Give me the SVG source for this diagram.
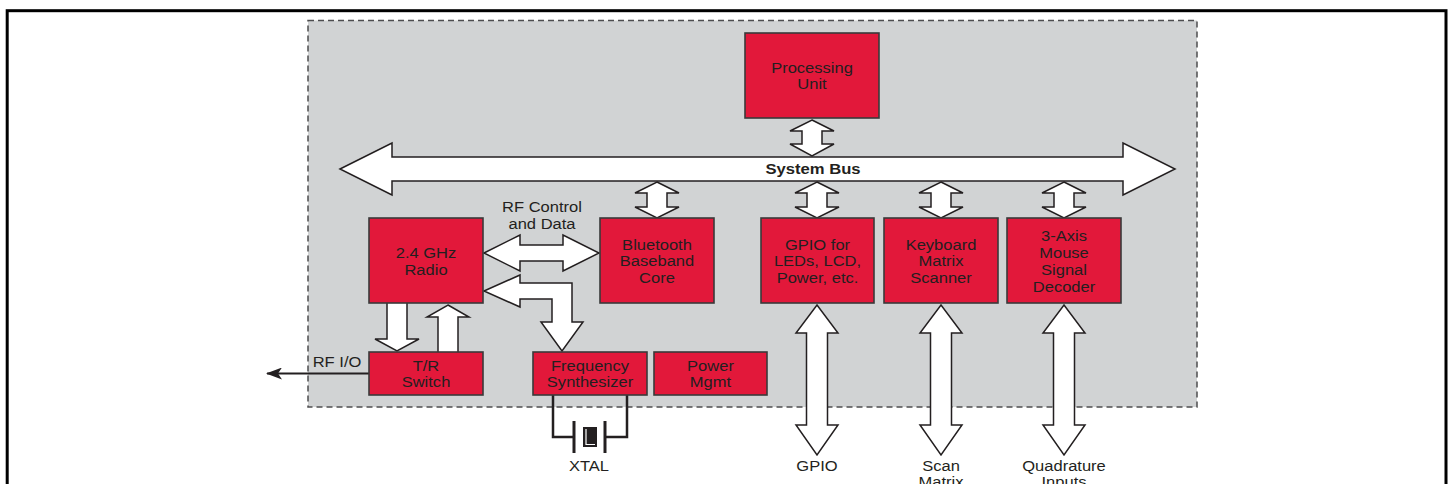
<svg xmlns="http://www.w3.org/2000/svg" width="1449" height="484" viewBox="0 0 1449 484">
<defs>
<style>
.frame{fill:none;stroke:#000;stroke-width:3}
.panel{fill:#d1d3d4;stroke:#4d4d4f;stroke-width:1.5;stroke-dasharray:6 4}
.blk{fill:#e2183a;stroke:#3a3a3a;stroke-width:1.6}
.arr{fill:#fff;stroke:#231f20;stroke-width:1.5;stroke-linejoin:miter}
.wire{fill:none;stroke:#231f20;stroke-width:2.5}
.plate{fill:none;stroke:#231f20;stroke-width:3}
.t{font-family:"Liberation Sans",Arial,sans-serif;font-size:14.5px;fill:#231f20;text-anchor:middle}
.tb{font-family:"Liberation Sans",Arial,sans-serif;font-size:15px;font-weight:bold;fill:#231f20;text-anchor:middle}
</style>
<marker id="ah" viewBox="0 0 16 12" refX="15" refY="6" markerWidth="16" markerHeight="12" markerUnits="userSpaceOnUse" orient="auto">
<path d="M16,6 L0,0 L4,6 L0,12 Z" fill="#231f20"/>
</marker>
</defs>
<rect class="frame" x="7.2" y="10.7" width="1438.8" height="500"/>
<rect class="panel" x="308" y="20.5" width="889" height="386.5"/>

<g id="connectors">
<polygon class="arr" points="340,169 392,143 392,157 1123,157 1123,143 1175,169 1123,195 1123,181 392,181 392,195"/>
<polygon class="arr" points="812,120 834,131 822,131 822,144 834,144 812,156 790,144 802,144 802,131 790,131"/>
<polygon class="arr" points="657,182 679,193 667,193 667,207 679,207 657,218 635,207 647,207 647,193 635,193"/>
<polygon class="arr" points="817,182 839,193 827,193 827,207 839,207 817,218 795,207 807,207 807,193 795,193"/>
<polygon class="arr" points="941,182 963,193 951,193 951,207 963,207 941,218 919,207 931,207 931,193 919,193"/>
<polygon class="arr" points="1064,182 1086,193 1074,193 1074,207 1086,207 1064,218 1042,207 1054,207 1054,193 1042,193"/>
<polygon class="arr" points="484,253 520,235 520,245 563,245 563,235 599,253 563,271 563,261 520,261 520,271"/>
<polygon class="arr" points="484,291 520,275 520,283 572,283 572,322 583,322 562,351 541,322 552,322 552,299 520,299 520,307"/>
<polygon class="arr" points="387,300 407,300 407,339 419,339 397,351 375,339 387,339"/>
<polygon class="arr" points="448,305 469,317 458,317 458,355 438,355 438,317 427,317"/>
<polygon class="arr" points="817,305 838,333 827.5,333 827.5,425 838,425 817,455 796,425 806.5,425 806.5,333 796,333"/>
<polygon class="arr" points="941,305 962,333 951.5,333 951.5,425 962,425 941,455 920,425 930.5,425 930.5,333 920,333"/>
<polygon class="arr" points="1064,305 1085,333 1074.5,333 1074.5,425 1085,425 1064,455 1043,425 1053.5,425 1053.5,333 1043,333"/>
<line x1="369" y1="373.5" x2="267" y2="373.5" stroke="#231f20" stroke-width="2.2" marker-end="url(#ah)"/>
<path class="wire" d="M553,395 V437 H574 M627,395 V437 H605"/>
</g>

<g id="system-bus-label"><text class="tb" transform="translate(813 174) scale(1.11 1)">System Bus</text></g>

<g id="processing-unit">
<rect class="blk" x="745" y="33" width="134" height="85"/>
<text class="t" transform="translate(812 73) scale(1.14 1)"><tspan x="0">Processing</tspan><tspan x="0" dy="16.5">Unit</tspan></text>
</g>
<g id="radio">
<rect class="blk" x="369" y="218" width="114" height="85"/>
<text class="t" transform="translate(426 258) scale(1.14 1)"><tspan x="0">2.4 GHz</tspan><tspan x="0" dy="17">Radio</tspan></text>
</g>
<g id="baseband">
<rect class="blk" x="600" y="218" width="114" height="85"/>
<text class="t" transform="translate(657 250) scale(1.14 1)"><tspan x="0">Bluetooth</tspan><tspan x="0" dy="16.5">Baseband</tspan><tspan x="0" dy="16.5">Core</tspan></text>
</g>
<g id="gpio-block">
<rect class="blk" x="761" y="218" width="113" height="85"/>
<text class="t" transform="translate(817.5 250) scale(1.14 1)"><tspan x="0">GPIO for</tspan><tspan x="0" dy="16.5">LEDs, LCD,</tspan><tspan x="0" dy="16.5">Power, etc.</tspan></text>
</g>
<g id="keyboard">
<rect class="blk" x="884" y="218" width="114" height="85"/>
<text class="t" transform="translate(941 250) scale(1.14 1)"><tspan x="0">Keyboard</tspan><tspan x="0" dy="16.5">Matrix</tspan><tspan x="0" dy="16.5">Scanner</tspan></text>
</g>
<g id="mouse">
<rect class="blk" x="1007" y="218" width="114" height="85"/>
<text class="t" transform="translate(1064 241) scale(1.14 1)"><tspan x="0">3-Axis</tspan><tspan x="0" dy="17">Mouse</tspan><tspan x="0" dy="17">Signal</tspan><tspan x="0" dy="17">Decoder</tspan></text>
</g>
<g id="tr-switch">
<rect class="blk" x="369" y="352" width="114" height="43"/>
<text class="t" transform="translate(426 371) scale(1.14 1)"><tspan x="0">T/R</tspan><tspan x="0" dy="16">Switch</tspan></text>
</g>
<g id="freq-synth">
<rect class="blk" x="533" y="352" width="114" height="43"/>
<text class="t" transform="translate(590 371) scale(1.14 1)"><tspan x="0">Frequency</tspan><tspan x="0" dy="16">Synthesizer</tspan></text>
</g>
<g id="power-mgmt">
<rect class="blk" x="654" y="352" width="113" height="43"/>
<text class="t" transform="translate(710.5 371) scale(1.14 1)"><tspan x="0">Power</tspan><tspan x="0" dy="16">Mgmt</tspan></text>
</g>
<g id="xtal">
<line class="plate" x1="574" y1="421" x2="574" y2="453"/>
<line class="plate" x1="605" y1="421" x2="605" y2="453"/>
<rect x="583" y="427" width="14" height="20" fill="#231f20"/>
<path d="M586,429 V444.5 H595" fill="none" stroke="#fff" stroke-width="1.2"/>
<text class="t" transform="translate(589 471) scale(1.14 1)">XTAL</text>
</g>
<g id="labels">
<text class="t" transform="translate(542 212) scale(1.14 1)"><tspan x="0">RF Control</tspan><tspan x="0" dy="17.5">and Data</tspan></text>
<text class="t" transform="translate(337 367) scale(1.14 1)">RF I/O</text>
<text class="t" transform="translate(817 471) scale(1.14 1)">GPIO</text>
<text class="t" transform="translate(941 471) scale(1.14 1)"><tspan x="0">Scan</tspan><tspan x="0" dy="16.5">Matrix</tspan></text>
<text class="t" transform="translate(1064 471) scale(1.14 1)"><tspan x="0">Quadrature</tspan><tspan x="0" dy="16.5">Inputs</tspan></text>
</g>
</svg>
